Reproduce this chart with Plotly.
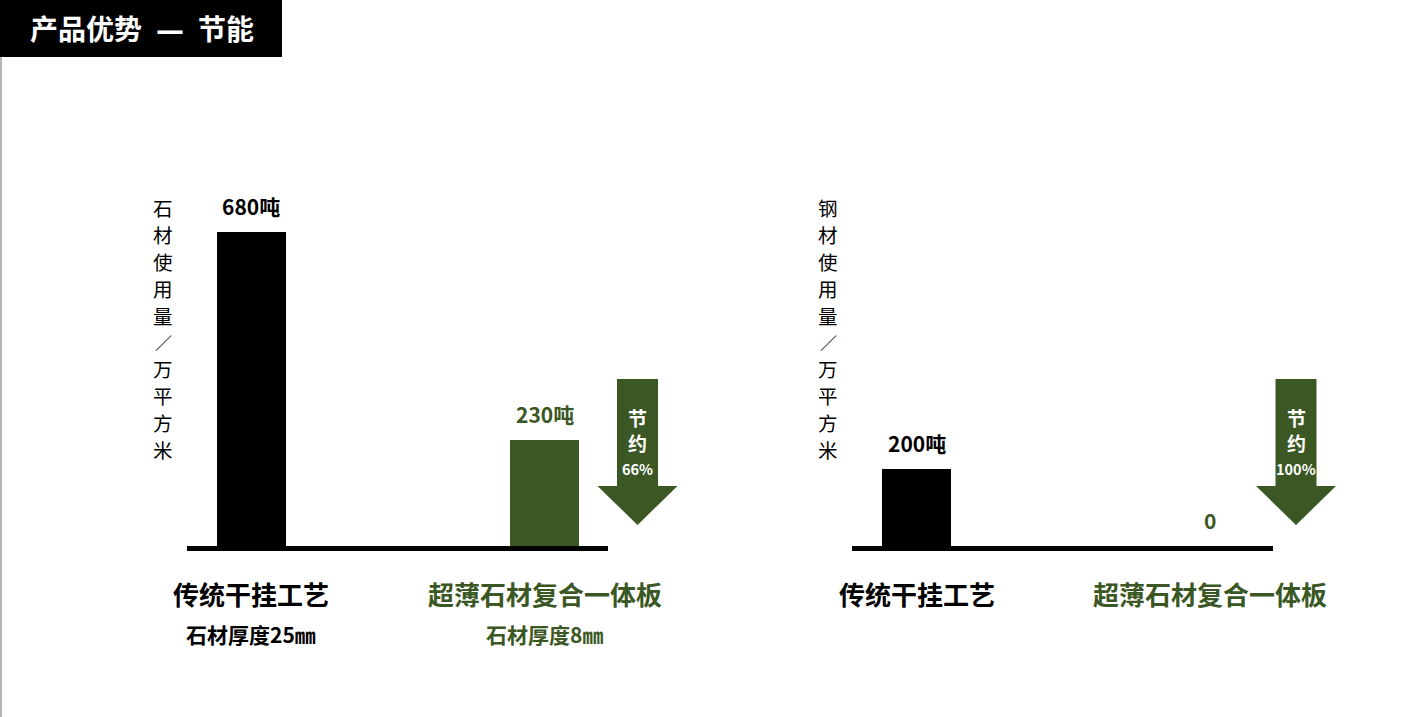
import plotly.graph_objects as go

# ---- data ----
categories = ["传统干挂工艺", "超薄石材复合一体板"]
sub_labels = ["石材厚度25㎜", "石材厚度8㎜"]
stone_values = [680, 230]
steel_values = [200, 0]
stone_labels = ["680吨", "230吨"]
steel_labels = ["200吨", "0"]
stone_saving = "66%"
steel_saving = "100%"
stone_ytitle = "石材使用量／万平方米"
steel_ytitle = "钢材使用量／万平方米"
title_left, title_dash, title_right = "产品优势", "—", "节能"

BLACK = "#000000"
GREEN = "#3b5723"
FONT = "Noto Sans CJK SC"
W, H = 1414, 717


def px(x):
    return x / W


def py(y):
    return 1 - y / H


xpos = [0, 1]
bar_colors = [BLACK, GREEN]
text_colors = [BLACK, GREEN]

fig = go.Figure()
fig.add_trace(go.Bar(x=xpos, y=stone_values, marker=dict(color=bar_colors, line=dict(width=0)),
                     width=0.2355, xaxis="x", yaxis="y", hoverinfo="skip"))
fig.add_trace(go.Bar(x=xpos, y=steel_values, marker=dict(color=bar_colors, line=dict(width=0)),
                     width=0.2355, xaxis="x2", yaxis="y2", hoverinfo="skip"))

unit = 293.0
xr = [-(251.5 - 187) / unit, 1 + (608 - 544.5) / unit]
ydom = [py(546), py(232)]

axis_common = dict(showgrid=False, zeroline=False, showticklabels=False, ticks="",
                   showline=True, linecolor=BLACK, linewidth=5, fixedrange=True)
yaxis_common = dict(showgrid=False, zeroline=False, showticklabels=False, ticks="",
                    showline=False, fixedrange=True)

fig.update_layout(
    width=W, height=H,
    margin=dict(l=0, r=0, t=0, b=0),
    paper_bgcolor="white", plot_bgcolor="rgba(0,0,0,0)",
    showlegend=False,
    bargap=0,
    xaxis=dict(domain=[px(187), px(608)], range=xr, anchor="y", **axis_common),
    yaxis=dict(domain=ydom, range=[0, 680], anchor="x", **yaxis_common),
    xaxis2=dict(domain=[px(852), px(1273)], range=xr, anchor="y2", **axis_common),
    yaxis2=dict(domain=ydom, range=[0, 200 * 314 / 77], anchor="x2", **yaxis_common),
    font=dict(family=FONT),
)

ann = []
shapes = []

# title box
shapes.append(dict(type="rect", xref="paper", yref="paper", x0=0, x1=px(282), y0=py(57), y1=1,
                   fillcolor=BLACK, line=dict(width=0), layer="above"))
title_html = ("<b>" + title_left + "\u2002<span style='font-family:DejaVu Sans'>" + title_dash +
              "</span>\u2002" + title_right + "</b>")
ann.append(dict(text=title_html, xref="paper", yref="paper", x=px(142), y=py(28),
                xanchor="center", yanchor="middle", showarrow=False,
                font=dict(size=28, color="white", family=FONT)))
# left thin gray edge
shapes.append(dict(type="line", xref="paper", yref="paper", x0=px(1), x1=px(1), y0=0, y1=py(57),
                   line=dict(color="#b5b5b5", width=2)))

for xa, ya, values, labels in [("x", "y", stone_values, stone_labels), ("x2", "y2", steel_values, steel_labels)]:
    for i in range(2):
        ann.append(dict(text="<b>" + labels[i] + "</b>", xref=xa, yref=ya, x=xpos[i], y=values[i],
                        xanchor="center", yanchor="bottom", yshift=9, showarrow=False,
                        font=dict(size=21, color=text_colors[i], family=FONT)))
        ann.append(dict(text="<b>" + categories[i] + "</b>", xref=xa, yref="paper", x=xpos[i], y=py(593),
                        xanchor="center", yanchor="middle", showarrow=False,
                        font=dict(size=26, color=text_colors[i], family=FONT)))

for i in range(2):
    ann.append(dict(text="<b>" + sub_labels[i] + "</b>", xref="x", yref="paper", x=xpos[i], y=py(634),
                    xanchor="center", yanchor="middle", showarrow=False,
                    font=dict(size=21, color=text_colors[i], family=FONT)))

# vertical y titles, one character per line
for xc, t in [(163, stone_ytitle), (828, steel_ytitle)]:
    for k, ch in enumerate(t):
        ann.append(dict(text=ch, xref="paper", yref="paper", x=px(xc), y=py(208 + k * 26.8),
                        xanchor="center", yanchor="middle", showarrow=False, borderpad=0,
                        font=dict(size=17 if ch == "／" else 19.5, color=BLACK, family=FONT)))

# saving arrows
for cx, pct in [(637.5, stone_saving), (1296, steel_saving)]:
    sw, hw = 20.5, 40
    top, neck, tip = 379, 486, 525
    pts = [(cx - sw, top), (cx + sw, top), (cx + sw, neck), (cx + hw, neck), (cx, tip),
           (cx - hw, neck), (cx - sw, neck)]
    path = "M " + " L ".join(f"{px(a):.5f},{py(b):.5f}" for a, b in pts) + " Z"
    shapes.append(dict(type="path", xref="paper", yref="paper", path=path,
                       fillcolor=GREEN, line=dict(width=0), layer="above"))
    ann.append(dict(text="<b>节</b>", xref="paper", yref="paper", x=px(cx), y=py(417),
                    xanchor="center", yanchor="middle", showarrow=False,
                    font=dict(size=19, color="white", family=FONT)))
    ann.append(dict(text="<b>约</b>", xref="paper", yref="paper", x=px(cx), y=py(442),
                    xanchor="center", yanchor="middle", showarrow=False,
                    font=dict(size=19, color="white", family=FONT)))
    ann.append(dict(text="<b>" + pct + "</b>", xref="paper", yref="paper", x=px(cx), y=py(468),
                    xanchor="center", yanchor="middle", showarrow=False,
                    font=dict(size=14.5, color="white", family=FONT)))

fig.update_layout(annotations=ann, shapes=shapes)
fig.write_html("out.html", config={"displayModeBar": False},
               post_script="document.body.style.margin='0';document.body.style.overflow='hidden';")
